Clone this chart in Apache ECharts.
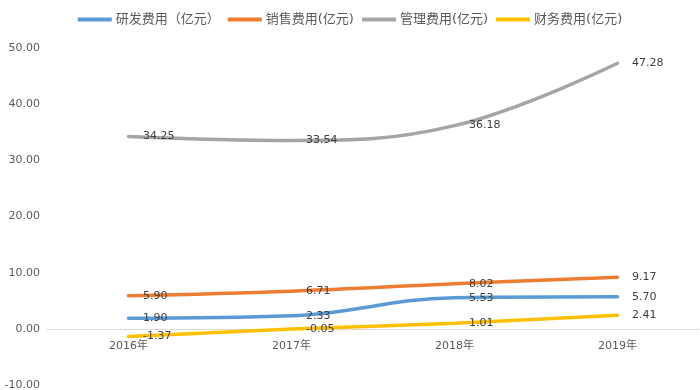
<!DOCTYPE html>
<html>
<head>
<meta charset="utf-8">
<script src="https://cdn.jsdelivr.net/npm/echarts@6/dist/echarts.min.js"></script>
<style>html,body{margin:0;padding:0;background:#fff;}#c{width:700px;height:390px;}</style>
</head>
<body>
<div id="c"></div>
<script>
var categories = ['2016年', '2017年', '2018年', '2019年'];
var seriesNames = ['研发费用（亿元）', '销售费用(亿元)', '管理费用(亿元)', '财务费用(亿元)'];
var rdValues = [1.90, 2.33, 5.53, 5.70];
var salesValues = [5.90, 6.71, 8.02, 9.17];
var adminValues = [34.25, 33.54, 36.18, 47.28];
var financeValues = [-1.37, -0.05, 1.01, 2.41];
var yTicks = [-10, 0, 10, 20, 30, 40, 50];
var colors = ['#5B9BD5', '#ED7D31', '#A5A5A5', '#FFC000'];

var font = "'DejaVu Sans', 'Noto Sans CJK SC', sans-serif";
var chart = echarts.init(document.getElementById('c'));

var gridTop = 48, gridBottom = 5, H = 390;
var yMin = yTicks[0], yMax = yTicks[yTicks.length - 1];
var plotH = H - gridTop - gridBottom;
// move the category axis up so it sits on the zero line
var zeroOffset = -plotH * (0 - yMin) / (yMax - yMin);

function mk(name, data, color) {
  return {
    name: name,
    type: 'line',
    data: data,
    smooth: 0.4,
    symbol: 'circle',
    symbolSize: 1,
    showSymbol: true,
    itemStyle: { color: color },
    lineStyle: { width: 3.5, color: color, cap: 'round' },
    label: {
      show: true,
      position: 'right',
      distance: 14,
      color: '#404040',
      fontSize: 11,
      fontFamily: font,
      formatter: function (p) { return p.value.toFixed(2); }
    },
    emphasis: { disabled: true },
    animation: false
  };
}

chart.setOption({
  backgroundColor: '#ffffff',
  animation: false,
  color: colors,
  legend: {
    top: 8,
    left: 'center',
    icon: 'rect',
    itemWidth: 34,
    itemHeight: 4,
    itemGap: 8,
    textStyle: { color: '#595959', fontSize: 13, fontFamily: font, padding: [0, 0, 0, -1] },
    data: seriesNames
  },
  grid: { left: 47, right: 1, top: gridTop, bottom: gridBottom, containLabel: false, outerBoundsMode: 'none' },
  xAxis: {
    type: 'category',
    data: categories,
    position: 'bottom',
    offset: zeroOffset,
    boundaryGap: true,
    axisLine: { show: true, onZero: false, lineStyle: { color: '#D9D9D9', width: 1 } },
    axisTick: { show: false },
    axisLabel: { show: true, color: '#595959', fontSize: 11, fontFamily: font, margin: 12 },
    splitLine: { show: false }
  },
  yAxis: {
    type: 'value',
    min: yMin,
    max: yMax,
    interval: 10,
    axisLine: { show: false },
    axisTick: { show: false },
    splitLine: { show: false },
    axisLabel: {
      color: '#595959', fontSize: 11, fontFamily: font, margin: 7,
      formatter: function (v) { return v.toFixed(2); }
    }
  },
  series: [
    mk(seriesNames[0], rdValues, colors[0]),
    mk(seriesNames[1], salesValues, colors[1]),
    mk(seriesNames[2], adminValues, colors[2]),
    mk(seriesNames[3], financeValues, colors[3])
  ]
});
</script>
</body>
</html>
